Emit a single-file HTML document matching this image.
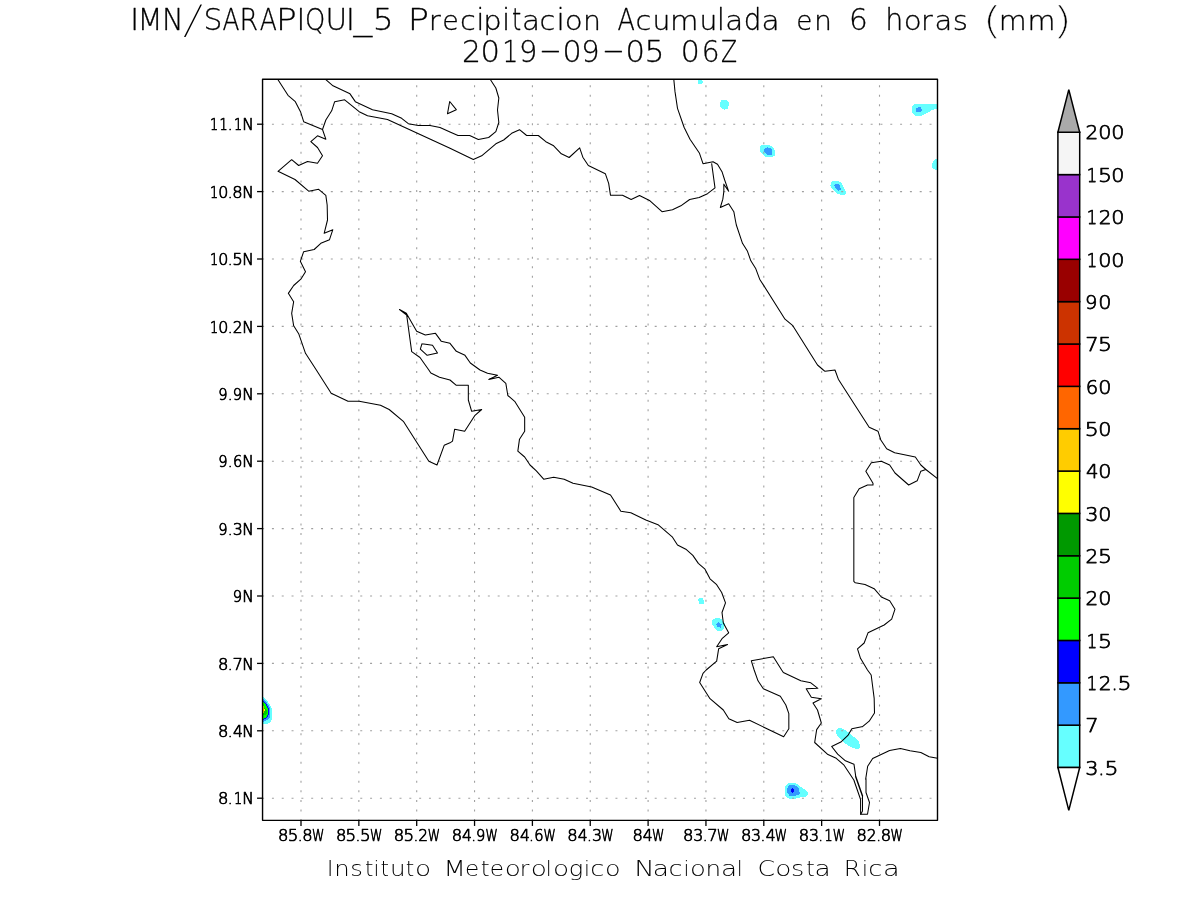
<!DOCTYPE html>
<html lang="es"><head><meta charset="utf-8"><title>IMN/SARAPIQUI_5 Precipitacion Acumulada en 6 horas (mm)</title>
<style>html,body{margin:0;padding:0;background:#fff;overflow:hidden}svg{display:block}text{font-family:'DejaVu Sans Light','DejaVu Sans','Liberation Sans',sans-serif;font-weight:200;fill:#000;stroke:#000;stroke-linejoin:round;stroke-width:0;white-space:pre}.t1{font-size:29.8px;stroke-width:0.3px}.cap{font-size:21.4px;stroke-width:0px}.ax{font-size:15.15px;stroke-width:0.7px}.cbl{font-size:19.4px;stroke-width:0.75px}.coast{fill:none;stroke:#000;stroke-width:1.05;stroke-linejoin:round;stroke-linecap:round}.grid{fill:none;stroke:#a0a0a0;stroke-width:1.1}.frame{fill:none;stroke:#000;stroke-width:1.4}.tick{fill:none;stroke:#000;stroke-width:1.3}.cb{stroke:#000;stroke-width:1.5;stroke-linejoin:miter}</style></head><body>
<svg width="1200" height="900" viewBox="0 0 1200 900">
<rect width="1200" height="900" fill="#fff"/>
<defs><clipPath id="plot"><rect x="262.55" y="79.3" width="674.95" height="741.05"/></clipPath></defs>
<g clip-path="url(#plot)">
<g shape-rendering="crispEdges"><path d="M697.93 79L702 79L702 81L703.17 81L703.17 83L702 83L702 84L697.93 84Z" fill="#66ffff"/><path d="M722 99.83L726 99.83L727 101L728 102L729 103L729 106L728 106L728 108L727 109L725 109.17L724.5 110.17L724 109.17L722 109L721 108L720 107L720 102L721 101Z" fill="#66ffff"/><path d="M762 144.83L769 144.83L771 146L774 149L775 151L775 155L774 156L772 157L766 157L764 156L761 153L760 151L760 147Z" fill="#66ffff"/><path d="M767.33 147L768 148L770 148L772 150L772 154L771 155L767 155L764 152L764 149L765 148L766.83 147.83Z" fill="#3399ff"/><path d="M832 181L838 181L840 182L842 184L844 188L845 190L846 192L846 193L845 195L841 195L838 194L836 193L833 190L831 188L831 186L830 185.5L831 185L831 182Z" fill="#66ffff"/><path d="M835 184L838 184L840 185L840 188L841 189L840 190L839 190L838.5 191L836 189L835 187L834 186L834 185Z" fill="#3399ff"/><path d="M915 104L938 104L938 108L936 109L934 109L933 110L931 110L930 111L929 112L927 113L925 114L923 115L921 116L916 116L914 115L913 114L912 112L912 106L913 105Z" fill="#66ffff"/><path d="M916 108L918 108L918 107L921 107L921 109L922 109L922 111L921 111L921 112L916 112Z" fill="#3399ff"/><path d="M938 159L935 159L934 160L933 161L933 163L932 163L932 168L933 168L933 169L935 169L935 170L938 170Z" fill="#66ffff"/><path d="M699 598L703 598L703 600L704 600L704 604L699 604L699 601L698 601L698 599L699 599Z" fill="#66ffff"/><path d="M716 618L719 618L721 619L722 620L723 622L725 624L725 625L724 626L724 628L723 629L722 631L717 631L716 630L714 628L714 626L712 625L712 620L714 619Z" fill="#66ffff"/><path d="M718.5 622L719.33 623.33L721.83 624L721.83 624.67L721 625.33L721 627.67L720 627.67L719.67 626.67L717 626.67L717 625.33L716 624.67L716 624.17L717.67 623.33Z" fill="#3399ff"/><path d="M838 728L840 728L843 729L845 730L848 732L851 735L854 737L857 740L859 742L860 745L860 747L858 749L856 749L853 748L849 746L846 744L843 742L840 739L838 737L837 735L836 733L836 731L837 729Z" fill="#66ffff"/><path d="M788 783L795 783L797 784L799 786L801 787L803 789L804 789L806 791L807 792L808 792L808 794L807 795L805 797L800 797L800 798L796 798L796 799L789 799L789 798L787 798L785 796L785 786L787 784Z" fill="#66ffff"/><path d="M789 785L794 785L796 786L799 789L799 792L800 792L800 793L798 795L796 795L796 796L789 796L789 795L787 793L787 788L788 787L788 786Z" fill="#3399ff"/><path d="M792.5 787.83L794 789.33L794 791.67L792.5 793.17L791 791.67L791 789.33Z" fill="#0000ff"/><path d="M261 696.5L262.83 696.5L268 702L270 705L271 707L272 709L272 719L271 721L269 723L267 724L261 724Z" fill="#66ffff"/><path d="M261 699L263 699L267 703L269 706L270 708L270 717L267 720L263 722L261 722Z" fill="#3399ff"/><path d="M261 701L263 701L266 703.33L268 707L269.17 710L269.17 713.67L268.17 716L266 718.33L263 720L261 720Z" fill="#0000ff"/><path d="M261 702L263 702L265 703.67L267 707L268.17 710L268.17 714L267 716L265 718L263 719L261 719Z" fill="#00ff00"/><path d="M261 708L265 708L266.67 710.67L266.67 714L265 715.33L261 715.33Z" fill="#00cc00"/><path d="M261 706L264 706L264 713L261 713Z" fill="#ffcc00"/><path d="M263.5 709L265 709L265 711L263.5 711Z" fill="#ffff00"/></g>
</g>
<g class="grid">
<path d="M262.1 124.2H937.5" stroke-dasharray="2 7.815"/>
<path d="M262.1 191.6H937.5" stroke-dasharray="2 7.815"/>
<path d="M262.1 259H937.5" stroke-dasharray="2 7.815"/>
<path d="M262.1 326.4H937.5" stroke-dasharray="2 7.815"/>
<path d="M262.1 393.8H937.5" stroke-dasharray="2 7.815"/>
<path d="M262.1 461.2H937.5" stroke-dasharray="2 7.815"/>
<path d="M262.1 528.6H937.5" stroke-dasharray="2 7.815"/>
<path d="M262.1 596H937.5" stroke-dasharray="2 7.815"/>
<path d="M262.1 663.4H937.5" stroke-dasharray="2 7.815"/>
<path d="M262.1 730.8H937.5" stroke-dasharray="2 7.815"/>
<path d="M262.1 798.2H937.5" stroke-dasharray="2 7.815"/>
<path d="M301 820.95V79.3" stroke-dasharray="2 7.53"/>
<path d="M358.85 820.95V79.3" stroke-dasharray="2 7.53"/>
<path d="M416.7 820.95V79.3" stroke-dasharray="2 7.53"/>
<path d="M474.55 820.95V79.3" stroke-dasharray="2 7.53"/>
<path d="M532.4 820.95V79.3" stroke-dasharray="2 7.53"/>
<path d="M590.25 820.95V79.3" stroke-dasharray="2 7.53"/>
<path d="M648.1 820.95V79.3" stroke-dasharray="2 7.53"/>
<path d="M705.95 820.95V79.3" stroke-dasharray="2 7.53"/>
<path d="M763.8 820.95V79.3" stroke-dasharray="2 7.53"/>
<path d="M821.65 820.95V79.3" stroke-dasharray="2 7.53"/>
<path d="M879.5 820.95V79.3" stroke-dasharray="2 7.53"/>
</g>
<g class="coast" clip-path="url(#plot)">
<path d="M278 79.67L288 95.33L295.33 101.67L300.5 111.67L303.67 121.67L322.5 129.5L325.83 139.17L317.5 135.83L310.83 141.67L317.5 147.5L322.5 155.83L317.5 163.33L307.5 161.5L298.67 165.5L291.67 159.67L278 171.33L295 179.5L308.67 191.17L318.67 189.33L325.83 195.33L327.17 205L327.5 220L324.17 233.33L332.83 229.67L329.5 239.67L320.83 243.33L314.17 249.5L303.67 251.67L300.33 261.33L305.5 271.67L300.83 279.17L293.67 285.5L288.33 293.33L293.67 301.67L291.67 313.33L293.67 325.83L298.67 333.67L305.5 353.33L316.33 370L331.17 393.33L348 401.17L359.17 401.17L380.5 405.33L389.17 409.5L403.33 421.33L428.83 461.17L437 465L444.17 445.33L450 442.83L452.5 441.17L454.67 429.17L464.67 431.17L475 415.33L481.67 409.5L471.67 411.33L468.33 400L468.33 385.33L456.33 385.33L450 380L439.5 377.17L430.83 373L428.83 370L420 357.5L411.67 351.67L406.67 315L399.5 309.5L406.33 313.33L416.67 331.17L425.33 335L435.5 333.33L441.17 341.17L450 343.33L456.33 351.33L465 355.33L470.33 363L480 370L487.5 373.33L497.5 375.33L488.83 379.5L498.83 377.17L505.83 383.33L507.83 395.5L514.67 401.33L524.67 417.17L524.67 431.33L519.5 439.17L517.83 451.17L524.67 457L530 465L536.33 470.83L543.67 479.17L553.67 477.17L564.17 479.17L573 483.33L591.67 487L610.5 495L620.83 511.17L630.83 512.83L645.83 520L658 524.67L672.5 537.17L677.5 545L685.83 549.17L692.83 555.33L698.33 563.33L705 569.17L710 578.83L716.67 584.67L721.67 592.5L725.5 602.83L722 612.5L723.33 623L728.67 632.83L722 638.67L716.67 646.67L727.5 644.5L718.67 648.67L716.67 661.17L706.17 670L703 673.33L699.67 682.5L710 698.67L723.33 710L728.83 718.83L737.17 722.5L749.5 720.33L783.67 736.67L788.83 728.83L788.83 713.67L785.83 705L780.33 696.33L763.33 688.83L758 680.83L754.17 670L751.33 660.83L773.33 656.67L781.67 670L783.33 672.5L800.83 680.83L810.83 682.83L817.83 688.33L806.17 688.83L811.33 697.17L821.33 698.83L813 703L817.5 710L821.33 723L816.67 729.67L814.67 742.5L827.92 754.58L836.25 758.33L843.75 764.83L854.17 780.42L854 780.5L860.6 799.5L860.6 814.25L867.5 814.25L869.5 802.5L866 792.5L866 778.5L865.67 779.17L867.67 766.25L872.67 758.58L889.58 750.42L900.42 748.5L910 750.83L920.83 752.5L929.17 756.67L937.5 758.33"/>
<path d="M322.5 129.5L325.83 120L331.67 110.83L334.67 101.67L344.67 99.83L359.17 111.67L367.5 115.83L387.5 119.5L450 148.33L473.33 159.5L481.67 155.83L495.83 143.83L503.67 140L511.67 133.33L519.5 129.67L526.67 135.5L538.33 135.5L545.83 141.67L553.67 145.83L561.33 153.83L569.17 157.5L579.67 147.83L582.83 157.17L588.33 165.5L605.33 173.67L608.67 183.33L610.5 195.33L622.5 195.33L631.17 199.5L639.5 195.5L650 200.83L662 211.67L672.5 209.67L680.83 205.83L689.67 199.5L699.17 197.5L707.5 193.67L715 187.83L711.67 163.67"/>
<path d="M325.83 79.67L333 85.83L350 93.83L355.33 101.67L372.5 109.67L391.67 113.67L401.67 118.33L408.33 123.67L418.33 125.5L430 125.5L440 127.5L450 132L458 135.5L469.67 135.5L478.33 139.5L488.67 137.5L495.83 131.67L498.83 122.5L497.5 110L498.83 98L495.83 88L490.5 79.67"/>
<path d="M673.83 79.67L675 91.67L677.5 108.33L684.17 127.5L690 139.17L699.5 153.33L703 163.67L713 161.67L717.5 164.17L722 171.67L724.67 180L728.67 191.33L723.83 184.17L723.83 191.67L722.83 199.17L720.33 207.5L728.67 203.67L733.83 211.67L735.33 220L736.33 225L742.5 243.33L747.5 251.33L750.83 260.83L755.83 268.83L759.67 279.17L785 319.17L792.5 325.33L817.5 365L823.33 370L825 371.33L835 370L838.33 379.17L869.17 427.17L878 431.17L880.83 440L886.67 448.83L894.67 452.83L915.33 457L920.83 465L925.83 469.5L937.5 478.67"/>
<path d="M925.83 469.5L920.83 471.17L917.17 480.83L908.67 485L895 473L889.67 465L881.33 461.17L871.33 462.83L865.83 471.17L873 483.33L873 485L867.5 485L859.17 488.83L853.83 497.5L853.83 520L853.83 581.33L855.33 582.83L865 584.5L874.17 588.67L881.33 597L889.67 600.83L895 609.17L891.67 619.17L884.17 625L868 632.83L864.17 643L857.5 648.83L860.5 658.33L867.5 670L871.17 675L874.17 698.33L874.5 713L869.17 721.17L862.5 726.67L861.67 726.83L851.83 728.75L847.92 735.42L840.83 742.08L831.67 746.5L837.67 754.17L845.42 760.83L854 764.33L855.67 775.83L862.67 795.83L855.5 776.5L862.5 796.5L862.5 811L860.75 814.25"/>
<path d="M447.5 113.7L449.7 101.5L456.3 109.7L447.5 113.7"/>
<path d="M422 343.67L432.5 345.33L437.5 353L427.17 355.33L420.33 349.17L422 343.67"/>
</g>
<rect class="frame" stroke-linejoin="round" x="262.55" y="79.3" width="674.95" height="741.05"/>
<g class="tick">
<path d="M257.05 124.2H262.55"/>
<path d="M257.05 191.6H262.55"/>
<path d="M257.05 259H262.55"/>
<path d="M257.05 326.4H262.55"/>
<path d="M257.05 393.8H262.55"/>
<path d="M257.05 461.2H262.55"/>
<path d="M257.05 528.6H262.55"/>
<path d="M257.05 596H262.55"/>
<path d="M257.05 663.4H262.55"/>
<path d="M257.05 730.8H262.55"/>
<path d="M257.05 798.2H262.55"/>
<path d="M301 820.35V825.95"/>
<path d="M358.85 820.35V825.95"/>
<path d="M416.7 820.35V825.95"/>
<path d="M474.55 820.35V825.95"/>
<path d="M532.4 820.35V825.95"/>
<path d="M590.25 820.35V825.95"/>
<path d="M648.1 820.35V825.95"/>
<path d="M705.95 820.35V825.95"/>
<path d="M763.8 820.35V825.95"/>
<path d="M821.65 820.35V825.95"/>
<path d="M879.5 820.35V825.95"/>
</g>
<text class="t1" y="29.9"><tspan x="130.32" textLength="8.8" lengthAdjust="spacingAndGlyphs">I</tspan><tspan x="137.5" textLength="25.07" lengthAdjust="spacingAndGlyphs">M</tspan><tspan x="162.05" textLength="21.53" lengthAdjust="spacingAndGlyphs">N</tspan><tspan x="181.75" y="33.8" stroke="#fff" stroke-width="1" font-size="41.53" textLength="22.46" lengthAdjust="spacingAndGlyphs">/</tspan><tspan x="203.5" y="29.9" textLength="18.92" lengthAdjust="spacingAndGlyphs">S</tspan><tspan x="222.55" textLength="17" lengthAdjust="spacingAndGlyphs">A</tspan><tspan x="239.45" textLength="18.67" lengthAdjust="spacingAndGlyphs">R</tspan><tspan x="259.65" textLength="17.18" lengthAdjust="spacingAndGlyphs">A</tspan><tspan x="276" textLength="20.72" lengthAdjust="spacingAndGlyphs">P</tspan><tspan x="296.42" textLength="8.8" lengthAdjust="spacingAndGlyphs">I</tspan><tspan x="305.1" textLength="20.26" lengthAdjust="spacingAndGlyphs">Q</tspan><tspan x="325.45" textLength="21.63" lengthAdjust="spacingAndGlyphs">U</tspan><tspan x="346.08" textLength="8.8" lengthAdjust="spacingAndGlyphs">I</tspan><tspan x="353.4" y="29.8" textLength="18.74" lengthAdjust="spacingAndGlyphs">_</tspan><tspan x="372.7" y="29.9" textLength="20.87" lengthAdjust="spacingAndGlyphs">5</tspan> <tspan x="407.65" textLength="21.28" lengthAdjust="spacingAndGlyphs">P</tspan><tspan x="428.85" font-size="26.97" textLength="11.97" lengthAdjust="spacingAndGlyphs">r</tspan><tspan x="442.3" font-size="26.97" textLength="16.53" lengthAdjust="spacingAndGlyphs">e</tspan><tspan x="459.95" font-size="26.97" textLength="15.74" lengthAdjust="spacingAndGlyphs">c</tspan><tspan x="476.15" textLength="8.28" lengthAdjust="spacingAndGlyphs">i</tspan><tspan x="483.35" font-size="26.97" textLength="18.44" lengthAdjust="spacingAndGlyphs">p</tspan><tspan x="502" textLength="8.28" lengthAdjust="spacingAndGlyphs">i</tspan><tspan x="512" textLength="9.22" lengthAdjust="spacingAndGlyphs">t</tspan><tspan x="522.05" font-size="26.97" textLength="18.01" lengthAdjust="spacingAndGlyphs">a</tspan><tspan x="539.55" font-size="26.97" textLength="15.74" lengthAdjust="spacingAndGlyphs">c</tspan><tspan x="556.5" textLength="8.28" lengthAdjust="spacingAndGlyphs">i</tspan><tspan x="564.85" font-size="26.97" textLength="17.95" lengthAdjust="spacingAndGlyphs">o</tspan><tspan x="583" font-size="26.97" textLength="17.98" lengthAdjust="spacingAndGlyphs">n</tspan> <tspan x="617.55" textLength="17.4" lengthAdjust="spacingAndGlyphs">A</tspan><tspan x="635.55" font-size="26.97" textLength="15.74" lengthAdjust="spacingAndGlyphs">c</tspan><tspan x="652.55" font-size="26.97" textLength="17.84" lengthAdjust="spacingAndGlyphs">u</tspan><tspan x="670.05" font-size="26.97" textLength="28.46" lengthAdjust="spacingAndGlyphs">m</tspan><tspan x="699.55" font-size="26.97" textLength="17.84" lengthAdjust="spacingAndGlyphs">u</tspan><tspan x="716.7" textLength="8.28" lengthAdjust="spacingAndGlyphs">l</tspan><tspan x="725.15" font-size="26.97" textLength="18.01" lengthAdjust="spacingAndGlyphs">a</tspan><tspan x="743.7" textLength="17.66" lengthAdjust="spacingAndGlyphs">d</tspan><tspan x="761.45" font-size="26.97" textLength="18.11" lengthAdjust="spacingAndGlyphs">a</tspan> <tspan x="796.3" font-size="26.97" textLength="16.14" lengthAdjust="spacingAndGlyphs">e</tspan><tspan x="814" font-size="26.97" textLength="17.98" lengthAdjust="spacingAndGlyphs">n</tspan> <tspan x="848.95" textLength="18.76" lengthAdjust="spacingAndGlyphs">6</tspan> <tspan x="885.3" textLength="18.04" lengthAdjust="spacingAndGlyphs">h</tspan><tspan x="903.75" font-size="26.97" textLength="17.95" lengthAdjust="spacingAndGlyphs">o</tspan><tspan x="921" font-size="26.97" textLength="11.7" lengthAdjust="spacingAndGlyphs">r</tspan><tspan x="934.45" font-size="26.97" textLength="17.82" lengthAdjust="spacingAndGlyphs">a</tspan><tspan x="952.7" font-size="26.97" textLength="15.25" lengthAdjust="spacingAndGlyphs">s</tspan> <tspan x="982.25" y="33.02" stroke="#fff" stroke-width="0.4" font-size="37.74" textLength="19.78" lengthAdjust="spacingAndGlyphs">(</tspan><tspan x="998.7" y="29.9" font-size="26.97" textLength="27.95" lengthAdjust="spacingAndGlyphs">m</tspan><tspan x="1027.4" font-size="26.97" textLength="27.95" lengthAdjust="spacingAndGlyphs">m</tspan><tspan x="1052.4" y="33.02" stroke="#fff" stroke-width="0.4" font-size="37.74" textLength="19.91" lengthAdjust="spacingAndGlyphs">)</tspan></text>
<text class="t1" y="61.9"><tspan x="462.1" textLength="18.97" lengthAdjust="spacingAndGlyphs">2</tspan><tspan x="480.5" textLength="19.48" lengthAdjust="spacingAndGlyphs">0</tspan><tspan x="502.25" textLength="16.12" lengthAdjust="spacingAndGlyphs">1</tspan><tspan x="518.95" textLength="18.35" lengthAdjust="spacingAndGlyphs">9</tspan><tspan x="538.95" y="60.35" textLength="22.83" lengthAdjust="spacingAndGlyphs">-</tspan><tspan x="562.5" y="61.9" textLength="19.2" lengthAdjust="spacingAndGlyphs">0</tspan><tspan x="581.25" textLength="18.35" lengthAdjust="spacingAndGlyphs">9</tspan><tspan x="601.95" y="60.35" textLength="22.83" lengthAdjust="spacingAndGlyphs">-</tspan><tspan x="625.5" y="61.9" textLength="19.48" lengthAdjust="spacingAndGlyphs">0</tspan><tspan x="644.6" textLength="19.99" lengthAdjust="spacingAndGlyphs">5</tspan> <tspan x="680.8" textLength="19.06" lengthAdjust="spacingAndGlyphs">0</tspan><tspan x="701.8" textLength="17.82" lengthAdjust="spacingAndGlyphs">6</tspan><tspan x="720.9" textLength="16.11" lengthAdjust="spacingAndGlyphs">Z</tspan></text>
<text class="cap" y="876.3"><tspan x="326.98" textLength="6.31" lengthAdjust="spacingAndGlyphs">I</tspan><tspan x="334.35" font-size="20.33" textLength="15.47" lengthAdjust="spacingAndGlyphs">n</tspan><tspan x="350.25" font-size="20.33" textLength="12.6" lengthAdjust="spacingAndGlyphs">s</tspan><tspan x="365" textLength="8.38" lengthAdjust="spacingAndGlyphs">t</tspan><tspan x="373.62" textLength="5.95" lengthAdjust="spacingAndGlyphs">i</tspan><tspan x="380.6" textLength="8.51" lengthAdjust="spacingAndGlyphs">t</tspan><tspan x="389.95" font-size="20.33" textLength="15.62" lengthAdjust="spacingAndGlyphs">u</tspan><tspan x="405.7" textLength="8.51" lengthAdjust="spacingAndGlyphs">t</tspan><tspan x="415.1" font-size="20.33" textLength="16.14" lengthAdjust="spacingAndGlyphs">o</tspan> <tspan x="443.45" textLength="22.32" lengthAdjust="spacingAndGlyphs">M</tspan><tspan x="464.95" font-size="20.33" textLength="14.21" lengthAdjust="spacingAndGlyphs">e</tspan><tspan x="480.75" textLength="8.9" lengthAdjust="spacingAndGlyphs">t</tspan><tspan x="489.85" font-size="20.33" textLength="14.23" lengthAdjust="spacingAndGlyphs">e</tspan><tspan x="504.7" font-size="20.33" textLength="16.14" lengthAdjust="spacingAndGlyphs">o</tspan><tspan x="519.65" font-size="20.33" textLength="9.61" lengthAdjust="spacingAndGlyphs">r</tspan><tspan x="530.7" font-size="20.33" textLength="16.14" lengthAdjust="spacingAndGlyphs">o</tspan><tspan x="545.8" textLength="5.95" lengthAdjust="spacingAndGlyphs">l</tspan><tspan x="552.9" font-size="20.33" textLength="16.14" lengthAdjust="spacingAndGlyphs">o</tspan><tspan x="568.7" font-size="20.33" textLength="14.53" lengthAdjust="spacingAndGlyphs">g</tspan><tspan x="583.92" textLength="5.95" lengthAdjust="spacingAndGlyphs">i</tspan><tspan x="590.25" font-size="20.33" textLength="14.08" lengthAdjust="spacingAndGlyphs">c</tspan><tspan x="605.1" font-size="20.33" textLength="15.6" lengthAdjust="spacingAndGlyphs">o</tspan> <tspan x="634.15" textLength="20.41" lengthAdjust="spacingAndGlyphs">N</tspan><tspan x="652.75" font-size="20.33" textLength="16.28" lengthAdjust="spacingAndGlyphs">a</tspan><tspan x="668.55" font-size="20.33" textLength="14.08" lengthAdjust="spacingAndGlyphs">c</tspan><tspan x="683.62" textLength="5.95" lengthAdjust="spacingAndGlyphs">i</tspan><tspan x="690.1" font-size="20.33" textLength="15.87" lengthAdjust="spacingAndGlyphs">o</tspan><tspan x="705.55" font-size="20.33" textLength="15.62" lengthAdjust="spacingAndGlyphs">n</tspan><tspan x="721.05" font-size="20.33" textLength="16.14" lengthAdjust="spacingAndGlyphs">a</tspan><tspan x="736.8" textLength="5.95" lengthAdjust="spacingAndGlyphs">l</tspan> <tspan x="757.6" textLength="17.55" lengthAdjust="spacingAndGlyphs">C</tspan><tspan x="775.3" font-size="20.33" textLength="16.14" lengthAdjust="spacingAndGlyphs">o</tspan><tspan x="790.9" font-size="20.33" textLength="13.28" lengthAdjust="spacingAndGlyphs">s</tspan><tspan x="806.3" textLength="8.51" lengthAdjust="spacingAndGlyphs">t</tspan><tspan x="814.45" font-size="20.33" textLength="16.24" lengthAdjust="spacingAndGlyphs">a</tspan> <tspan x="843.7" textLength="17.04" lengthAdjust="spacingAndGlyphs">R</tspan><tspan x="861.92" textLength="5.95" lengthAdjust="spacingAndGlyphs">i</tspan><tspan x="868.25" font-size="20.33" textLength="14.08" lengthAdjust="spacingAndGlyphs">c</tspan><tspan x="883.05" font-size="20.33" textLength="16.72" lengthAdjust="spacingAndGlyphs">a</tspan></text>
<g>
<text class="ax" y="130.4"><tspan x="209.89" textLength="8.19" lengthAdjust="spacingAndGlyphs">1</tspan><tspan x="219.51" textLength="8.19" lengthAdjust="spacingAndGlyphs">1</tspan><tspan x="227.89" textLength="4.83" lengthAdjust="spacingAndGlyphs">.</tspan><tspan x="233.94" textLength="8.19" lengthAdjust="spacingAndGlyphs">1</tspan><tspan x="242.24" textLength="11.52" lengthAdjust="spacingAndGlyphs">N</tspan></text>
<text class="ax" y="197.8"><tspan x="209.89" textLength="8.19" lengthAdjust="spacingAndGlyphs">1</tspan><tspan x="218.21" textLength="10.12" lengthAdjust="spacingAndGlyphs">0</tspan><tspan x="227.89" textLength="4.83" lengthAdjust="spacingAndGlyphs">.</tspan><tspan x="232.39" textLength="10.37" lengthAdjust="spacingAndGlyphs">8</tspan><tspan x="242.24" textLength="11.52" lengthAdjust="spacingAndGlyphs">N</tspan></text>
<text class="ax" y="265.2"><tspan x="209.89" textLength="8.19" lengthAdjust="spacingAndGlyphs">1</tspan><tspan x="218.21" textLength="10.12" lengthAdjust="spacingAndGlyphs">0</tspan><tspan x="227.89" textLength="4.83" lengthAdjust="spacingAndGlyphs">.</tspan><tspan x="232.39" textLength="10.6" lengthAdjust="spacingAndGlyphs">5</tspan><tspan x="242.24" textLength="11.52" lengthAdjust="spacingAndGlyphs">N</tspan></text>
<text class="ax" y="332.6"><tspan x="209.89" textLength="8.19" lengthAdjust="spacingAndGlyphs">1</tspan><tspan x="218.21" textLength="10.12" lengthAdjust="spacingAndGlyphs">0</tspan><tspan x="227.89" textLength="4.83" lengthAdjust="spacingAndGlyphs">.</tspan><tspan x="232.89" textLength="9.79" lengthAdjust="spacingAndGlyphs">2</tspan><tspan x="242.24" textLength="11.52" lengthAdjust="spacingAndGlyphs">N</tspan></text>
<text class="ax" y="400"><tspan x="218.21" textLength="9.35" lengthAdjust="spacingAndGlyphs">9</tspan><tspan x="227.89" textLength="4.83" lengthAdjust="spacingAndGlyphs">.</tspan><tspan x="232.64" textLength="9.35" lengthAdjust="spacingAndGlyphs">9</tspan><tspan x="242.24" textLength="11.52" lengthAdjust="spacingAndGlyphs">N</tspan></text>
<text class="ax" y="467.4"><tspan x="218.21" textLength="9.35" lengthAdjust="spacingAndGlyphs">9</tspan><tspan x="227.89" textLength="4.83" lengthAdjust="spacingAndGlyphs">.</tspan><tspan x="233.12" textLength="9.35" lengthAdjust="spacingAndGlyphs">6</tspan><tspan x="242.24" textLength="11.52" lengthAdjust="spacingAndGlyphs">N</tspan></text>
<text class="ax" y="534.8"><tspan x="218.21" textLength="9.35" lengthAdjust="spacingAndGlyphs">9</tspan><tspan x="227.89" textLength="4.83" lengthAdjust="spacingAndGlyphs">.</tspan><tspan x="232.89" textLength="10.04" lengthAdjust="spacingAndGlyphs">3</tspan><tspan x="242.24" textLength="11.52" lengthAdjust="spacingAndGlyphs">N</tspan></text>
<text class="ax" y="602.2"><tspan x="232.64" textLength="9.35" lengthAdjust="spacingAndGlyphs">9</tspan><tspan x="242.24" textLength="11.52" lengthAdjust="spacingAndGlyphs">N</tspan></text>
<text class="ax" y="669.6"><tspan x="217.96" textLength="10.37" lengthAdjust="spacingAndGlyphs">8</tspan><tspan x="227.89" textLength="4.83" lengthAdjust="spacingAndGlyphs">.</tspan><tspan x="232.64" textLength="10.47" lengthAdjust="spacingAndGlyphs">7</tspan><tspan x="242.24" textLength="11.52" lengthAdjust="spacingAndGlyphs">N</tspan></text>
<text class="ax" y="737"><tspan x="217.96" textLength="10.37" lengthAdjust="spacingAndGlyphs">8</tspan><tspan x="227.89" textLength="4.83" lengthAdjust="spacingAndGlyphs">.</tspan><tspan x="233.14" textLength="9.91" lengthAdjust="spacingAndGlyphs">4</tspan><tspan x="242.24" textLength="11.52" lengthAdjust="spacingAndGlyphs">N</tspan></text>
<text class="ax" y="804.4"><tspan x="217.96" textLength="10.37" lengthAdjust="spacingAndGlyphs">8</tspan><tspan x="227.89" textLength="4.83" lengthAdjust="spacingAndGlyphs">.</tspan><tspan x="233.94" textLength="8.19" lengthAdjust="spacingAndGlyphs">1</tspan><tspan x="242.24" textLength="11.52" lengthAdjust="spacingAndGlyphs">N</tspan></text>
</g>
<g>
<text class="ax" y="840.55"><tspan x="278.14" textLength="10.37" lengthAdjust="spacingAndGlyphs">8</tspan><tspan x="287.76" textLength="10.6" lengthAdjust="spacingAndGlyphs">5</tspan><tspan x="297.69" textLength="4.83" lengthAdjust="spacingAndGlyphs">.</tspan><tspan x="302.19" textLength="10.37" lengthAdjust="spacingAndGlyphs">8</tspan><tspan x="312.08" textLength="12.34" lengthAdjust="spacingAndGlyphs">W</tspan></text>
<text class="ax" y="840.55"><tspan x="335.99" textLength="10.37" lengthAdjust="spacingAndGlyphs">8</tspan><tspan x="345.61" textLength="10.6" lengthAdjust="spacingAndGlyphs">5</tspan><tspan x="355.54" textLength="4.83" lengthAdjust="spacingAndGlyphs">.</tspan><tspan x="360.04" textLength="10.6" lengthAdjust="spacingAndGlyphs">5</tspan><tspan x="369.92" textLength="12.34" lengthAdjust="spacingAndGlyphs">W</tspan></text>
<text class="ax" y="840.55"><tspan x="393.84" textLength="10.37" lengthAdjust="spacingAndGlyphs">8</tspan><tspan x="403.46" textLength="10.6" lengthAdjust="spacingAndGlyphs">5</tspan><tspan x="413.39" textLength="4.83" lengthAdjust="spacingAndGlyphs">.</tspan><tspan x="418.39" textLength="9.79" lengthAdjust="spacingAndGlyphs">2</tspan><tspan x="427.77" textLength="12.34" lengthAdjust="spacingAndGlyphs">W</tspan></text>
<text class="ax" y="840.55"><tspan x="451.69" textLength="10.37" lengthAdjust="spacingAndGlyphs">8</tspan><tspan x="462.06" textLength="9.91" lengthAdjust="spacingAndGlyphs">4</tspan><tspan x="471.24" textLength="4.83" lengthAdjust="spacingAndGlyphs">.</tspan><tspan x="475.99" textLength="9.35" lengthAdjust="spacingAndGlyphs">9</tspan><tspan x="485.62" textLength="12.34" lengthAdjust="spacingAndGlyphs">W</tspan></text>
<text class="ax" y="840.55"><tspan x="509.54" textLength="10.37" lengthAdjust="spacingAndGlyphs">8</tspan><tspan x="519.91" textLength="9.91" lengthAdjust="spacingAndGlyphs">4</tspan><tspan x="529.09" textLength="4.83" lengthAdjust="spacingAndGlyphs">.</tspan><tspan x="534.32" textLength="9.35" lengthAdjust="spacingAndGlyphs">6</tspan><tspan x="543.47" textLength="12.34" lengthAdjust="spacingAndGlyphs">W</tspan></text>
<text class="ax" y="840.55"><tspan x="567.39" textLength="10.37" lengthAdjust="spacingAndGlyphs">8</tspan><tspan x="577.76" textLength="9.91" lengthAdjust="spacingAndGlyphs">4</tspan><tspan x="586.94" textLength="4.83" lengthAdjust="spacingAndGlyphs">.</tspan><tspan x="591.94" textLength="10.04" lengthAdjust="spacingAndGlyphs">3</tspan><tspan x="601.32" textLength="12.34" lengthAdjust="spacingAndGlyphs">W</tspan></text>
<text class="ax" y="840.55"><tspan x="632.45" textLength="10.37" lengthAdjust="spacingAndGlyphs">8</tspan><tspan x="642.82" textLength="9.91" lengthAdjust="spacingAndGlyphs">4</tspan><tspan x="651.96" textLength="12.34" lengthAdjust="spacingAndGlyphs">W</tspan></text>
<text class="ax" y="840.55"><tspan x="683.09" textLength="10.37" lengthAdjust="spacingAndGlyphs">8</tspan><tspan x="693.21" textLength="10.04" lengthAdjust="spacingAndGlyphs">3</tspan><tspan x="702.64" textLength="4.83" lengthAdjust="spacingAndGlyphs">.</tspan><tspan x="707.39" textLength="10.47" lengthAdjust="spacingAndGlyphs">7</tspan><tspan x="717.02" textLength="12.34" lengthAdjust="spacingAndGlyphs">W</tspan></text>
<text class="ax" y="840.55"><tspan x="740.94" textLength="10.37" lengthAdjust="spacingAndGlyphs">8</tspan><tspan x="751.06" textLength="10.04" lengthAdjust="spacingAndGlyphs">3</tspan><tspan x="760.49" textLength="4.83" lengthAdjust="spacingAndGlyphs">.</tspan><tspan x="765.74" textLength="9.91" lengthAdjust="spacingAndGlyphs">4</tspan><tspan x="774.87" textLength="12.34" lengthAdjust="spacingAndGlyphs">W</tspan></text>
<text class="ax" y="840.55"><tspan x="798.79" textLength="10.37" lengthAdjust="spacingAndGlyphs">8</tspan><tspan x="808.91" textLength="10.04" lengthAdjust="spacingAndGlyphs">3</tspan><tspan x="818.34" textLength="4.83" lengthAdjust="spacingAndGlyphs">.</tspan><tspan x="824.38" textLength="8.19" lengthAdjust="spacingAndGlyphs">1</tspan><tspan x="832.72" textLength="12.34" lengthAdjust="spacingAndGlyphs">W</tspan></text>
<text class="ax" y="840.55"><tspan x="856.64" textLength="10.37" lengthAdjust="spacingAndGlyphs">8</tspan><tspan x="866.76" textLength="9.79" lengthAdjust="spacingAndGlyphs">2</tspan><tspan x="876.19" textLength="4.83" lengthAdjust="spacingAndGlyphs">.</tspan><tspan x="880.69" textLength="10.37" lengthAdjust="spacingAndGlyphs">8</tspan><tspan x="890.58" textLength="12.34" lengthAdjust="spacingAndGlyphs">W</tspan></text>
</g>
<g class="cb">
<rect x="1057.9" y="725.15" width="21.8" height="42.35" fill="#66ffff"/>
<rect x="1057.9" y="682.8" width="21.8" height="42.35" fill="#3399ff"/>
<rect x="1057.9" y="640.45" width="21.8" height="42.35" fill="#0000ff"/>
<rect x="1057.9" y="598.1" width="21.8" height="42.35" fill="#00ff00"/>
<rect x="1057.9" y="555.75" width="21.8" height="42.35" fill="#00cc00"/>
<rect x="1057.9" y="513.4" width="21.8" height="42.35" fill="#009900"/>
<rect x="1057.9" y="471.05" width="21.8" height="42.35" fill="#ffff00"/>
<rect x="1057.9" y="428.7" width="21.8" height="42.35" fill="#ffcc00"/>
<rect x="1057.9" y="386.35" width="21.8" height="42.35" fill="#ff6600"/>
<rect x="1057.9" y="344" width="21.8" height="42.35" fill="#ff0000"/>
<rect x="1057.9" y="301.65" width="21.8" height="42.35" fill="#cc3300"/>
<rect x="1057.9" y="259.3" width="21.8" height="42.35" fill="#990000"/>
<rect x="1057.9" y="216.95" width="21.8" height="42.35" fill="#ff00ff"/>
<rect x="1057.9" y="174.6" width="21.8" height="42.35" fill="#9933cc"/>
<rect x="1057.9" y="132.25" width="21.8" height="42.35" fill="#f5f5f5"/>
<path d="M1057.9 132.25L1068.8 89.6L1079.7 132.25Z" fill="#aaaaaa"/>
<path d="M1057.9 767.5L1068.8 810.4L1079.7 767.5Z" fill="#ffffff"/>
</g>
<g>
<text class="cbl" y="774.7"><tspan x="1085.31" textLength="13.23" lengthAdjust="spacingAndGlyphs">3</tspan><tspan x="1098.35" textLength="6.17" lengthAdjust="spacingAndGlyphs">.</tspan><tspan x="1104.46" textLength="14.05" lengthAdjust="spacingAndGlyphs">5</tspan></text>
<text class="cbl" y="732.35"><tspan x="1085.31" textLength="13.42" lengthAdjust="spacingAndGlyphs">7</tspan></text>
<text class="cbl" y="690"><tspan x="1086.8" textLength="10.49" lengthAdjust="spacingAndGlyphs">1</tspan><tspan x="1098.66" textLength="12.73" lengthAdjust="spacingAndGlyphs">2</tspan><tspan x="1111.45" textLength="6.17" lengthAdjust="spacingAndGlyphs">.</tspan><tspan x="1117.56" textLength="14.05" lengthAdjust="spacingAndGlyphs">5</tspan></text>
<text class="cbl" y="647.65"><tspan x="1086.8" textLength="10.49" lengthAdjust="spacingAndGlyphs">1</tspan><tspan x="1097.91" textLength="14.05" lengthAdjust="spacingAndGlyphs">5</tspan></text>
<text class="cbl" y="605.3"><tspan x="1085.56" textLength="12.73" lengthAdjust="spacingAndGlyphs">2</tspan><tspan x="1098.16" textLength="13.23" lengthAdjust="spacingAndGlyphs">0</tspan></text>
<text class="cbl" y="562.95"><tspan x="1085.56" textLength="12.73" lengthAdjust="spacingAndGlyphs">2</tspan><tspan x="1097.91" textLength="14.05" lengthAdjust="spacingAndGlyphs">5</tspan></text>
<text class="cbl" y="520.6"><tspan x="1085.31" textLength="13.23" lengthAdjust="spacingAndGlyphs">3</tspan><tspan x="1098.16" textLength="13.23" lengthAdjust="spacingAndGlyphs">0</tspan></text>
<text class="cbl" y="478.25"><tspan x="1086.06" textLength="12.55" lengthAdjust="spacingAndGlyphs">4</tspan><tspan x="1098.16" textLength="13.23" lengthAdjust="spacingAndGlyphs">0</tspan></text>
<text class="cbl" y="435.9"><tspan x="1084.81" textLength="14.05" lengthAdjust="spacingAndGlyphs">5</tspan><tspan x="1098.16" textLength="13.23" lengthAdjust="spacingAndGlyphs">0</tspan></text>
<text class="cbl" y="393.55"><tspan x="1085.72" textLength="12.44" lengthAdjust="spacingAndGlyphs">6</tspan><tspan x="1098.16" textLength="13.23" lengthAdjust="spacingAndGlyphs">0</tspan></text>
<text class="cbl" y="351.2"><tspan x="1085.31" textLength="13.42" lengthAdjust="spacingAndGlyphs">7</tspan><tspan x="1097.91" textLength="14.05" lengthAdjust="spacingAndGlyphs">5</tspan></text>
<text class="cbl" y="308.85"><tspan x="1085.06" textLength="12.44" lengthAdjust="spacingAndGlyphs">9</tspan><tspan x="1098.16" textLength="13.23" lengthAdjust="spacingAndGlyphs">0</tspan></text>
<text class="cbl" y="266.5"><tspan x="1086.8" textLength="10.49" lengthAdjust="spacingAndGlyphs">1</tspan><tspan x="1098.16" textLength="13.23" lengthAdjust="spacingAndGlyphs">0</tspan><tspan x="1111.26" textLength="13.23" lengthAdjust="spacingAndGlyphs">0</tspan></text>
<text class="cbl" y="224.15"><tspan x="1086.8" textLength="10.49" lengthAdjust="spacingAndGlyphs">1</tspan><tspan x="1098.66" textLength="12.73" lengthAdjust="spacingAndGlyphs">2</tspan><tspan x="1111.26" textLength="13.23" lengthAdjust="spacingAndGlyphs">0</tspan></text>
<text class="cbl" y="181.8"><tspan x="1086.8" textLength="10.49" lengthAdjust="spacingAndGlyphs">1</tspan><tspan x="1097.91" textLength="14.05" lengthAdjust="spacingAndGlyphs">5</tspan><tspan x="1111.26" textLength="13.23" lengthAdjust="spacingAndGlyphs">0</tspan></text>
<text class="cbl" y="139.45"><tspan x="1085.56" textLength="12.73" lengthAdjust="spacingAndGlyphs">2</tspan><tspan x="1098.16" textLength="13.23" lengthAdjust="spacingAndGlyphs">0</tspan><tspan x="1111.26" textLength="13.23" lengthAdjust="spacingAndGlyphs">0</tspan></text>
</g>
</svg></body></html>
